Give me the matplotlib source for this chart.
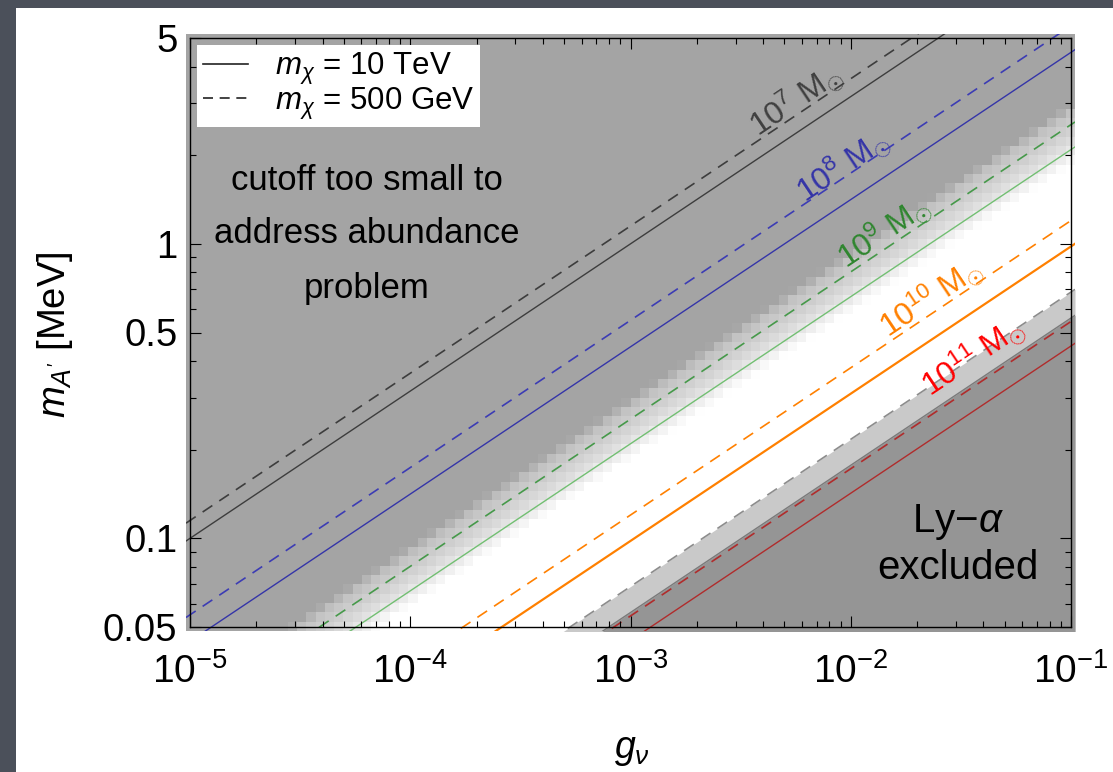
import numpy as np
import matplotlib
matplotlib.use("Agg")
import matplotlib.pyplot as plt
from matplotlib.patches import Rectangle
from matplotlib.lines import Line2D
from matplotlib.ticker import FixedLocator, LogLocator, LogFormatterMathtext, NullFormatter

plt.rcParams['font.family'] = ['Liberation Sans', 'DejaVu Sans']
plt.rcParams['mathtext.fontset'] = 'custom'
plt.rcParams['mathtext.rm'] = 'Liberation Sans'
plt.rcParams['mathtext.it'] = 'Liberation Sans:italic'
plt.rcParams['mathtext.bf'] = 'Liberation Sans:bold'

# axis ranges
g_lim = [1e-5, 1e-1]
m_lim = [0.05, 5]

# every contour is a straight line in log-log: m_A' read at g = 1e-5 and g = 1e-1
g_ends = [1e-5, 1e-1]
halo_labels = ['10^{7}', '10^{8}', '10^{9}', '10^{10}', '10^{11}']
m_10TeV = [[0.1, 10.0], [0.0447, 4.47], [0.021, 2.09], [0.0098, 0.98], [0.0045, 0.45]]
m_500GeV = [[0.115, 11.5], [0.055, 5.5], [0.0254, 2.54], [0.012, 1.2], [0.00545, 0.545]]

# Lyman-alpha band edges and the edge of the shaded "cutoff too small" region
lya_dashed = [0.00686, 0.686]
lya_solid = [0.0056, 0.56]
shade_top = [0.0299, 2.99]     # fully gray above this
shade_bottom = [0.0186, 1.86]  # fully white below this

# where the halo mass labels sit (g, m)
label_g = [0.00558, 0.00912, 0.0140, 0.0229, 0.0356]
label_m = [3.08, 1.838, 1.097, 0.660, 0.416]

solid_cols = ['#3d3d3d', '#3535a8', '#72bf72', '#ff8000', '#b02c2c']
dash_cols = ['#3d3d3d', '#3c3cb4', '#46994a', '#ff8000', '#b02c2c']
solid_lw = [1.0, 1.0, 1.0, 1.6, 1.0]
label_cols = ['#404040', '#3434a8', '#2f862f', '#ff8000', '#ff0000']

W, H = 1113, 772
fig = plt.figure(figsize=(W / 100, H / 100), dpi=100, facecolor='#4b505a')
fig.patches.append(Rectangle((16 / W, -0.02), 1.1, 1 - 8 / H + 0.02, transform=fig.transFigure,
                             facecolor='white', edgecolor='none', zorder=-5))

# frame position in pixels
L, R, T, B = 190, 1071, 38, 627
pad = 4
xdec = 4 / (R - L)
ydec = 2 / (B - T)
g_out = [g_lim[0] * 10 ** (-pad * xdec), g_lim[1] * 10 ** (pad * xdec)]
m_out = [m_lim[0] * 10 ** (-pad * ydec), m_lim[1] * 10 ** (pad * ydec)]

bg = fig.add_axes([(L - pad) / W, (H - B - pad) / H, (R - L + 2 * pad) / W, (B - T + 2 * pad) / H])
bg.set_zorder(1)
bg.set_xscale('log')
bg.set_yscale('log')
bg.set_xlim(g_out)
bg.set_ylim(m_out)
bg.axis('off')


def extend(m_pair):
    lg = np.log10(g_ends)
    lm = np.log10(m_pair)
    k = (lm[1] - lm[0]) / (lg[1] - lg[0])
    gx = np.array(g_out)
    return gx, 10 ** (lm[0] + k * (np.log10(gx) - lg[0]))


# blocky gray -> white shading
nx, ny = 96, 64
ge = np.logspace(np.log10(g_out[0]), np.log10(g_out[1]), nx + 1)
me = np.logspace(np.log10(m_out[0]), np.log10(m_out[1]), ny + 1)
gc = np.sqrt(ge[1:] * ge[:-1])
mc = np.sqrt(me[1:] * me[:-1])
GG, MM = np.meshgrid(gc, mc)
lg = np.log10(g_ends)
k_up = (np.log10(shade_top[1]) - np.log10(shade_top[0])) / (lg[1] - lg[0])
k_lo = (np.log10(shade_bottom[1]) - np.log10(shade_bottom[0])) / (lg[1] - lg[0])
up = np.log10(shade_top[0]) + k_up * (np.log10(GG) - lg[0])
lo = np.log10(shade_bottom[0]) + k_lo * (np.log10(GG) - lg[0])
t = np.clip((np.log10(MM) - lo) / (up - lo), 0, 1)
levels = np.interp(t, [0, 0.15, 0.35, 0.6, 0.85, 1.0], [1.0, 0.94, 0.87, 0.81, 0.76, 0.643])
bg.pcolormesh(ge, me, levels, cmap='gray', vmin=0, vmax=1, shading='flat', zorder=1)

# Lyman-alpha excluded region
xd, yd = extend(lya_dashed)
xs, ys = extend(lya_solid)
bg.fill_between(xd, yd, m_out[0] / 10, color='#c9c9c9', zorder=2, lw=0)
bg.fill_between(xs, ys, m_out[0] / 10, color='#959595', zorder=2, lw=0)
bg.plot(xd, yd, color='#8c8c8c', lw=1.2, ls=(0, (7, 5)), zorder=3)
bg.plot(xs, ys, color='#7a7a7a', lw=1.0, zorder=3)

for i in range(len(halo_labels)):
    x1, y1 = extend(m_10TeV[i])
    x2, y2 = extend(m_500GeV[i])
    bg.plot(x1, y1, color=solid_cols[i], lw=solid_lw[i], zorder=4)
    bg.plot(x2, y2, color=dash_cols[i], lw=1.2, ls=(0, (7, 5)), zorder=4)

# frame axes carrying ticks and labels
ax = fig.add_axes([L / W, (H - B) / H, (R - L) / W, (B - T) / H])
ax.set_zorder(2)
ax.set_xscale('log')
ax.set_yscale('log')
ax.set_xlim(g_lim)
ax.set_ylim(m_lim)
ax.patch.set_alpha(0)
for s in ax.spines.values():
    s.set_linewidth(1.0)

ax.xaxis.set_major_locator(FixedLocator([1e-5, 1e-4, 1e-3, 1e-2, 1e-1]))
ax.xaxis.set_major_formatter(LogFormatterMathtext())
ax.xaxis.set_minor_locator(LogLocator(base=10, subs=np.arange(2, 10)))
ax.xaxis.set_minor_formatter(NullFormatter())
y_major = [0.05, 0.1, 0.5, 1, 5]
ax.yaxis.set_major_locator(FixedLocator(y_major))
ax.set_yticklabels(['0.05', '0.1', '0.5', '1', '5'])
ax.yaxis.set_minor_locator(FixedLocator([0.06, 0.07, 0.08, 0.09, 0.2, 0.3, 0.4, 0.6, 0.7, 0.8, 0.9, 2, 3, 4]))
ax.yaxis.set_minor_formatter(NullFormatter())
ax.tick_params(which='both', direction='in', top=True, right=True, width=0.8, colors='black')
ax.tick_params(which='major', length=8)
ax.tick_params(which='minor', length=4.5)
ax.tick_params(axis='x', which='major', labelsize=28, pad=19)
ax.tick_params(axis='y', which='major', labelsize=27.5, pad=9)

ax.set_xlabel(r'$g_\nu$', fontsize=27)
ax.xaxis.set_label_coords(0.502, -0.178)
ax.set_ylabel(r"$m_{A'}$ [MeV]", fontsize=27.5)
ax.yaxis.set_label_coords(-0.131, 0.496)

# halo mass labels
for i in range(len(halo_labels)):
    bg.text(label_g[i], label_m[i], r'$\mathregular{' + halo_labels[i] + r'}\ \mathregular{M}_{\odot}$',
            color=label_cols[i], fontsize=23, rotation=33.8, ha='center', va='center', zorder=6)

# region annotations
for txt, yp in zip(['cutoff too small to', 'address abundance', 'problem'], [190, 243, 298]):
    ax.text((367 - L) / (R - L), (B - yp) / (B - T), txt, fontsize=25, ha='center', va='baseline',
            transform=ax.transAxes)
ax.text((958 - L) / (R - L), (B - 522) / (B - T), r'Ly$-\alpha$', fontsize=29, ha='center', va='center',
        transform=ax.transAxes)
ax.text((958 - L) / (R - L), (B - 568) / (B - T), 'excluded', fontsize=29, ha='center', va='center',
        transform=ax.transAxes)

handles = [Line2D([], [], color='#222222', lw=1.2),
           Line2D([], [], color='#222222', lw=1.2, ls=(0, (6, 4)))]
leg = ax.legend(handles, [r'$m_\chi$ = 10 TeV', r'$m_\chi$ = 500 GeV'], loc='upper left',
                bbox_to_anchor=(0.008, 0.988), borderaxespad=0, fontsize=22.5, handlelength=1.45,
                handletextpad=0.85, labelspacing=-0.05, borderpad=0.18, fancybox=False,
                framealpha=1, edgecolor='white', facecolor='white')
leg.get_frame().set_linewidth(0)

fig.savefig('out.png', dpi=100, facecolor=fig.get_facecolor())
